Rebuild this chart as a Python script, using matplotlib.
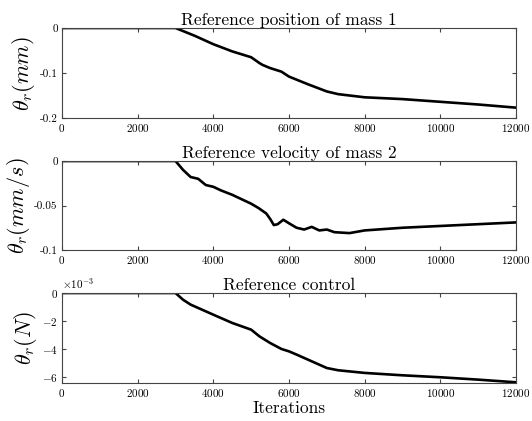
import numpy as np
from matplotlib import pyplot as plt
from matplotlib.ticker import ScalarFormatter

plt.rcParams['font.family'] = 'serif'
plt.rcParams['font.serif'] = ['cmr10']
plt.rcParams['mathtext.fontset'] = 'cm'
plt.rcParams['axes.formatter.use_mathtext'] = True
plt.rcParams['axes.unicode_minus'] = False

# values (iterations, reference values)
iters_pos = [0, 3000, 3500, 4000, 4500, 5000, 5220, 5300, 5500, 5800, 6000, 6500,
             7000, 7300, 8000, 9000, 10000, 11000, 12000]
pos_mass1 = [0, 0, -0.017, -0.036, -0.052, -0.065, -0.078, -0.082, -0.089, -0.097,
             -0.108, -0.125, -0.141, -0.147, -0.154, -0.158, -0.164, -0.170, -0.177]

iters_vel = [0, 3000, 3100, 3200, 3300, 3400, 3600, 3800, 4000, 4200, 4500, 4800,
             5000, 5200, 5400, 5500, 5600, 5700, 5850, 6000, 6200, 6400, 6600, 6800,
             7000, 7200, 7600, 8000, 9000, 10000, 11000, 12000]
vel_mass2 = [0, 0, -0.005, -0.010, -0.014, -0.018, -0.020, -0.027, -0.029, -0.033,
             -0.038, -0.044, -0.048, -0.053, -0.059, -0.065, -0.072, -0.071, -0.066,
             -0.070, -0.075, -0.077, -0.074, -0.078, -0.077, -0.080, -0.081, -0.078,
             -0.075, -0.073, -0.071, -0.069]

iters_ctl = [0, 3000, 3200, 3400, 3600, 4000, 4500, 5000, 5220, 5500, 5800, 6000,
             6200, 6500, 7000, 7300, 8000, 9000, 10000, 11000, 12000]
ctl = [0, 0, -0.48e-3, -0.83e-3, -1.07e-3, -1.55e-3, -2.14e-3, -2.62e-3, -3.10e-3,
       -3.57e-3, -4.00e-3, -4.17e-3, -4.40e-3, -4.76e-3, -5.36e-3, -5.52e-3,
       -5.71e-3, -5.88e-3, -6.02e-3, -6.19e-3, -6.38e-3]

titles = ['Reference position of mass 1', 'Reference velocity of mass 2', 'Reference control']
ylabels = [r'$\theta_r(mm)$', r'$\theta_r(mm/s)$', r'$\theta_r(N)$']
xticks = [0, 2000, 4000, 6000, 8000, 10000, 12000]

fig = plt.figure(figsize=(5.32, 4.21), dpi=100)
W, H = 532, 421
boxes = [(28, 118), (161, 250), (293, 383)]
left, right = 62, 516

data = [(iters_pos, pos_mass1), (iters_vel, vel_mass2), (iters_ctl, ctl)]
axes = []
for i, (top, bot) in enumerate(boxes):
    ax = fig.add_axes([left / W, 1 - bot / H, (right - left) / W, (bot - top) / H])
    x, y = data[i]
    ax.plot(x, y, color='black', linewidth=1.9)
    ax.set_xlim(0, 12000)
    ax.set_xticks(xticks)
    ax.set_title(titles[i], fontsize=12.5, pad=2)
    ax.set_ylabel(ylabels[i], fontsize=16, labelpad=2)
    ax.tick_params(direction='in', top=True, right=True, labelsize=8,
                   length=3, color='#444444', pad=3)
    for s in ax.spines.values():
        s.set_color('#444444')
        s.set_linewidth(0.8)
    axes.append(ax)

axes[0].set_ylim(-0.2, 0)
axes[0].set_yticks([-0.2, -0.1, 0])
axes[0].set_yticklabels(['-0.2', '-0.1', '0'])

axes[1].set_ylim(-0.1, 0)
axes[1].set_yticks([-0.1, -0.05, 0])
axes[1].set_yticklabels(['-0.1', '-0.05', '0'])

axes[2].set_ylim(-6.43e-3, 0)
axes[2].set_yticks([-6e-3, -4e-3, -2e-3, 0])
fmt = ScalarFormatter(useMathText=True)
fmt.set_powerlimits((-2, 2))
axes[2].yaxis.set_major_formatter(fmt)
axes[2].yaxis.get_offset_text().set_fontsize(8)
axes[2].set_xlabel('Iterations', fontsize=12.5, labelpad=1)

fig.savefig('out.png', dpi=100)
